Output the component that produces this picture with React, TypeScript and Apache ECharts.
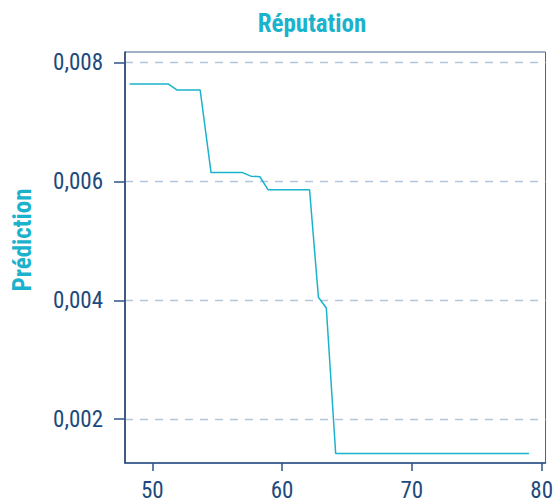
import React, { useEffect, useRef } from "react";
import * as echarts from "echarts";

const xValues = [48.26, 51.25, 51.92, 53.69, 54.53, 56.96, 57.6, 58.29, 58.93, 62.12, 62.8, 63.41, 64.13, 79.03];
const yValues = [0.00764, 0.00764, 0.00754, 0.00754, 0.00615, 0.00615, 0.00609, 0.00608, 0.00586, 0.00586, 0.00405, 0.00387, 0.00142, 0.00142];
const xTicks = [50, 60, 70, 80];
const yTicks = [0.002, 0.004, 0.006, 0.008];

const FONT = "'Liberation Sans Narrow', 'Roboto Condensed', Roboto, sans-serif";
const NAVY = "#1d4a7c";
const TEAL = "#1ab2cc";

export default function App() {
  const ref = useRef<HTMLDivElement>(null);
  useEffect(() => {
    document.body.style.margin = "0";
    if (!ref.current) return;
    const chart = echarts.init(ref.current, undefined, { renderer: "svg" });
    const data = xValues.map((x, i) => [x, yValues[i]]);
    chart.setOption({
      animation: false,
      grid: {
        left: 125,
        right: 9,
        top: 52,
        bottom: 40,
        show: true,
        borderColor: "#44658f",
        borderWidth: 1,
      },
      graphic: [
        {
          type: "text",
          x: 312,
          y: 23,
          style: {
            text: "Réputation",
            align: "center",
            verticalAlign: "middle",
            fill: TEAL,
            font: `bold 25px ${FONT}`,
          },
        },
        {
          type: "text",
          x: 22,
          y: 240,
          rotation: Math.PI / 2,
          style: {
            text: "Prédiction",
            align: "center",
            verticalAlign: "middle",
            fill: TEAL,
            font: `bold 25px ${FONT}`,
          },
        },
      ],
      xAxis: {
        type: "value",
        min: 47.9,
        max: 80.3,
        axisLine: { show: true, lineStyle: { color: "#2c5386", width: 1.5 } },
        axisTick: {
          show: true,
          length: 8,
          customValues: xTicks,
          lineStyle: { color: "#2c5386", width: 1.5 },
        },
        axisLabel: {
          customValues: xTicks,
          color: NAVY,
          fontFamily: FONT,
          fontSize: 23,
          margin: 16,
          formatter: (v: number) => String(v),
        },
        splitLine: { show: false },
      },
      yAxis: {
        type: "value",
        min: 0.00126,
        max: 0.00818,
        axisLine: { show: true, lineStyle: { color: "#1f3f6e", width: 1.5 } },
        axisTick: {
          show: true,
          length: 11,
          customValues: yTicks,
          lineStyle: { color: "#2c5386", width: 1.5 },
        },
        axisLabel: {
          customValues: yTicks,
          color: NAVY,
          fontFamily: FONT,
          fontSize: 23,
          margin: 22,
          formatter: (v: number) => v.toFixed(3).replace(".", ","),
        },
        splitLine: {
          show: true,
          customValues: yTicks,
          lineStyle: { color: "#b4c6dc", type: [8, 7], width: 1.3 },
        },
      },
      series: [
        {
          type: "line",
          data,
          showSymbol: false,
          symbol: "none",
          lineStyle: { color: TEAL, width: 1.5 },
          z: 3,
        },
      ],
    });
    return () => chart.dispose();
  }, []);
  return <div ref={ref} style={{ width: 556, height: 503 }} />;
}
